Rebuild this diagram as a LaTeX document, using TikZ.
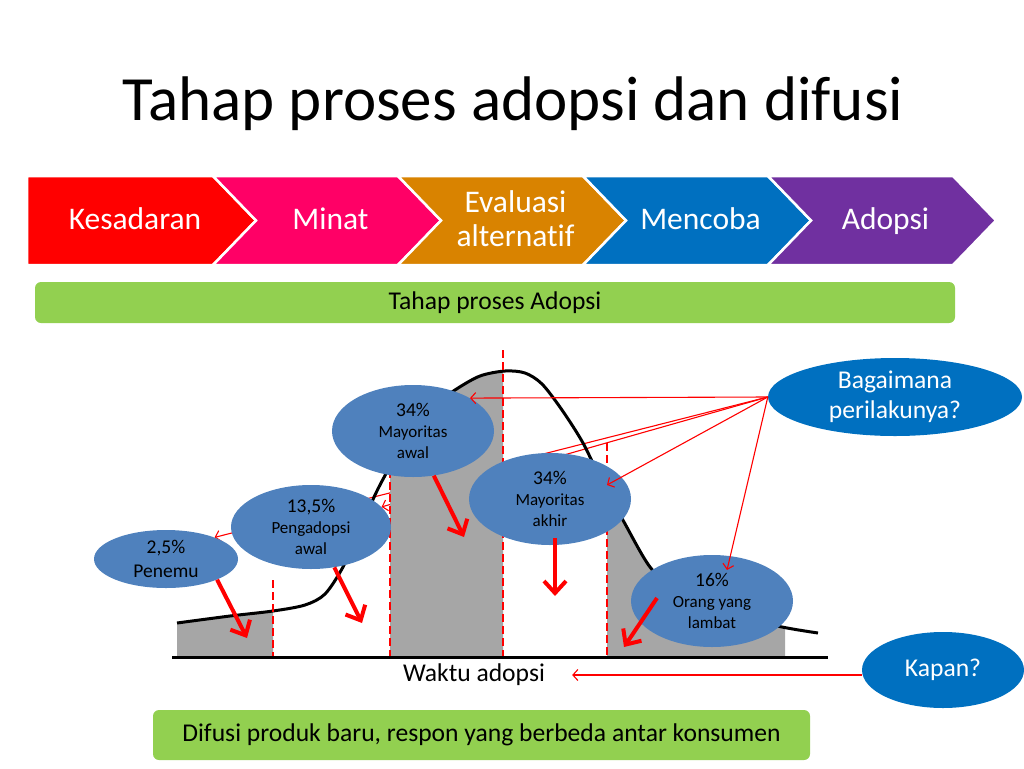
\documentclass[tikz,border=0pt]{standalone}
\usepackage{fontspec}
\setmainfont{Carlito}[Ligatures=NoCommon]
\usepackage{xcolor}
\usepackage{tikz}
\usetikzlibrary{shapes,arrows.meta,positioning,calc,backgrounds}

\definecolor{kesred}{RGB}{255,0,0}
\definecolor{minpink}{RGB}{255,0,102}
\definecolor{evorange}{RGB}{217,131,0}
\definecolor{cobablue}{RGB}{0,112,192}
\definecolor{adopurple}{RGB}{112,48,160}
\definecolor{bargreen}{RGB}{146,208,80}
\definecolor{blobblue}{RGB}{79,129,189}
\definecolor{fillgray}{RGB}{166,166,166}

\newcommand\pct[1]{{\fontsize{19.5}{22}\selectfont #1}}

\begin{document}
\begin{tikzpicture}[x=1pt,y=-1pt,
    chevtext/.style={text=white, align=center, font=\fontsize{31.5}{34}\selectfont},
    flatlab/.style={text depth=0pt},
    twolab/.style={},
    greenbar/.style={fill=bargreen, rounded corners=6pt, inner sep=0pt, font=\fontsize{25.6}{30}\selectfont},
    blob/.style={ellipse, fill=blobblue, inner sep=0pt, minimum width=162pt, minimum height=92pt, align=center, font=\fontsize{17}{21}\selectfont},
    askblob/.style={ellipse, fill=cobablue, inner sep=0pt, minimum width=162pt, minimum height=76pt, align=center, text=white, font=\fontsize{25.6}{30}\selectfont},
    thinarrow/.style={draw=red, line width=1.1pt, -{Straight Barb[length=5pt,width=11pt]}},
    bigarrow/.style={draw=red, line width=4pt, -{Straight Barb[length=12pt,width=22pt]}},
    splitline/.style={draw=red, line width=2.5pt, dash pattern=on 8pt off 4pt},
    curveline/.style={draw=black, line width=3pt}]
    \useasboundingbox (0,0) rectangle (1024,768);

    \node[anchor=base, font=\fontsize{63}{70}\selectfont] (title) at (513,120) {Tahap proses adopsi dan difusi};

    % chevron steps
    \foreach \i/\col/\lab/\opt in {0/kesred/Kesadaran/flatlab,1/minpink/Minat/flatlab,2/evorange/{Evaluasi\\alternatif}/twolab,3/cobablue/Mencoba/flatlab,4/adopurple/Adopsi/flatlab}{
        \pgfmathsetmacro\xl{\i==0 ? 27 : 28+185*\i}
        \pgfmathsetmacro\xr{213+185*\i}
        \pgfmathsetmacro\nd{\i==0 ? 0 : 43}
        \pgfmathsetmacro\xc{\i==0 ? 135 : (\xl+\xr)/2+25}
        \filldraw[fill=\col, draw=white, line width=2.5pt] (\xl,176) -- (\xr,176) -- (\xr+43,220.5) -- (\xr,265) -- (\xl,265) -- (\xl+\nd,220.5) -- cycle;
        \node[chevtext, \opt] (st\i) at (\xc,219) {\lab};
    }

    \node[greenbar, minimum width=920pt, minimum height=41pt] (adopsibar) at (495,302.5) {Tahap proses Adopsi};
    \node[greenbar, minimum width=657pt, minimum height=50pt] (difusibar) at (481.5,735) {Difusi produk baru, respon yang berbeda antar konsumen};

    % groups
    \node[blob, minimum width=144pt, minimum height=58pt, font=\fontsize{19.5}{24}\selectfont] (pen) at (166,559) {2,5\%\\Penemu};
    \node[blob, minimum width=160pt, minimum height=84pt] (peng) at (311,527) {\pct{13,5\%}\\Pengadopsi\\awal};
    \node[blob] (mawal) at (413,431) {\pct{34\%}\\Mayoritas\\awal};
    \node[blob] (makhir) at (550,499) {\pct{34\%}\\Mayoritas\\akhir};
    \node[blob] (lambat) at (712,601) {\pct{16\%}\\Orang yang\\lambat};
    \node[askblob, minimum width=254pt, minimum height=78pt] (tanya) at (895,397) {Bagaimana\\perilakunya?};
    \node[askblob] (kapan) at (943,670) {Kapan?};
    \node[font=\fontsize{25.6}{30}\selectfont, inner xsep=27pt] (waktu) at (474,675) {Waktu adopsi};

    \begin{scope}[on background layer]
        \draw[thinarrow] (tanya.west) -- (pen.24);
        \draw[thinarrow] (tanya.west) -- (peng);
        \foreach \xa/\xb in {177/273,390/503,607/785}{
            \begin{scope}
                \clip (\xa,340) rectangle (\xb,656);
                \fill[fillgray] plot[smooth,tension=.5] coordinates {(177,623) (230,616) (273,611) (305,605) (325,594) (343,567) (360,530) (375,495) (388,470) (405,440) (428,410) (455,390) (480,376) (505,371) (525,373) (542,384) (562,410) (583,443) (602,482) (624,522) (650,567) (680,596) (720,613) (782,627) (818,633)} -- (818,656) -- (177,656) -- cycle;
            \end{scope}
        }
        \draw[curveline] plot[smooth,tension=.5] coordinates {(177,623) (230,616) (273,611) (305,605) (325,594) (343,567) (360,530) (375,495) (388,470) (405,440) (428,410) (455,390) (480,376) (505,371) (525,373) (542,384) (562,410) (583,443) (602,482) (624,522) (650,567) (680,596) (720,613) (782,627) (818,633)};
        \draw[splitline] (273,580) -- (273,656);
        \draw[splitline] (390,470) -- (390,656);
        \draw[splitline] (503,350) -- (503,656);
        \draw[splitline] (607,443) -- (607,656);
        \draw[line width=3pt] (172,657) -- (828,657);
    \end{scope}

    \draw[thinarrow] (tanya.west) -- (mawal.30);
    \draw[thinarrow] (tanya.west) -- ($(makhir)+(57,-14)$);
    \draw[thinarrow] (tanya.west) -- ($(lambat)+(15,-31)$);
    \draw[thinarrow] (kapan.west |- waktu.east) -- (waktu.east);

    \coordinate (pentip) at (247,638);
    \coordinate (pengtip) at (362,623);
    \coordinate (awaltip) at (464,537);
    \coordinate (akhirtip) at (555,596);
    \coordinate (lambattip) at (624,647);
    \draw[bigarrow] (pen.-22) -- (pentip);
    \draw[bigarrow] (peng.-60) -- (pengtip);
    \draw[bigarrow] (mawal.-65) -- (awaltip);
    \draw[bigarrow] ($(makhir)+(5,39)$) -- (akhirtip);
    \draw[bigarrow] ($(lambat)+(-55,-3)$) -- (lambattip);
\end{tikzpicture}
\end{document}
